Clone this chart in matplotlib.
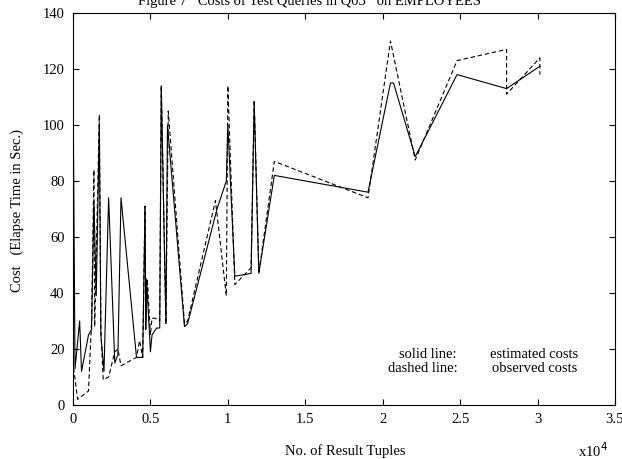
#!/usr/bin/env python3
import matplotlib
matplotlib.use('Agg')
import matplotlib.pyplot as plt
import numpy as np

plt.rcParams['font.family'] = ['Liberation Serif', 'DejaVu Serif']

# estimated costs (solid line): result tuples vs. elapse time in sec.
est_tuples = [0, 0, 130, 430, 550, 1000, 1200, 1350, 1500, 1700, 1800, 2000,
              2300, 2700, 2900, 3100, 4100, 4500, 4650, 4700, 4750, 5000,
              5100, 5400, 5600, 5700, 6000, 6100, 7200, 7400, 9300, 9900,
              10000, 10450, 11500, 11700, 12000, 13000, 19050, 20500, 20700,
              22100, 24800, 28000, 30150]
est_cost = [14, 118, 13, 30, 12, 25, 27, 73, 39, 100, 25, 12,
            74, 15, 18, 74, 17, 17, 71, 27, 45, 19,
            25, 27.5, 27.5, 114, 29, 100, 28, 29, 70, 80,
            100, 46, 47, 108, 47, 82, 76, 115, 115,
            88.7, 118, 113, 121]

# observed costs (dashed line)
obs_tuples = [0, 0, 300, 1000, 1200, 1350, 1400, 1700, 1800, 1950, 2300,
              2700, 2900, 3100, 4100, 4300, 4500, 4650, 4700, 4800, 5000,
              5100, 5300, 5600, 5700, 6000, 6150, 7200, 7400, 9200, 9900,
              10000, 10450, 11500, 11700, 12000, 13000, 19050, 20500, 22100,
              24800, 28000, 28000, 30150, 30150]
obs_cost = [119, 15, 2, 5, 30, 84, 28, 103.6, 27, 9, 10,
            19, 20, 14, 17, 23, 17, 71, 30, 45, 25,
            31, 31, 30, 114, 29, 105, 29, 30, 73, 39,
            114, 43, 49, 109, 47, 87, 74, 130, 87.5,
            123, 127, 111, 124, 118]

xticks = [0, 5000, 10000, 15000, 20000, 25000, 30000, 35000]
xtick_labels = ['0', '0.5', '1', '1.5', '2', '2.5', '3', '3.5']
yticks = [0, 20, 40, 60, 80, 100, 120, 140]

fig = plt.figure(figsize=(6.22, 4.59), dpi=100)
ax = fig.add_axes([73 / 622, 54 / 459, 542 / 622, 392 / 459])

ax.plot(est_tuples, est_cost, color='black', linewidth=0.8)
ax.plot(obs_tuples, obs_cost, color='black', linewidth=0.8, linestyle=(0, (4, 2.5)))

ax.set_xlim(0, 35000)
ax.set_ylim(0, 140)
ax.set_xticks(xticks)
ax.set_xticklabels(xtick_labels)
ax.set_yticks(yticks)
ax.tick_params(direction='in', length=4, width=0.8, labelsize=10.5,
               top=True, right=True, pad=6)
for s in ax.spines.values():
    s.set_linewidth(0.8)

# texts placed in figure pixels
def ftext(x, y, s, **kw):
    fig.text(x / 622, 1 - y / 459, s, fontsize=10.5, **kw)

ftext(310, 1, 'Figure 7   Costs of Test Queries in Q03   on EMPLOYEES',
      ha='center', va='center')
ftext(17, 210, 'Cost   (Elapse Time in Sec.)', rotation=90,
      ha='center', va='center')
ftext(345, 451, 'No. of Result Tuples', ha='center', va='center')
ftext(578, 451, 'x10$^4$', ha='left', va='center')
ftext(399, 355, 'solid line:', ha='left', va='center')
ftext(490, 355, 'estimated costs', ha='left', va='center')
ftext(388, 368, 'dashed line:', ha='left', va='center')
ftext(492, 368, 'observed costs', ha='left', va='center')

fig.savefig('out.png', dpi=100)
